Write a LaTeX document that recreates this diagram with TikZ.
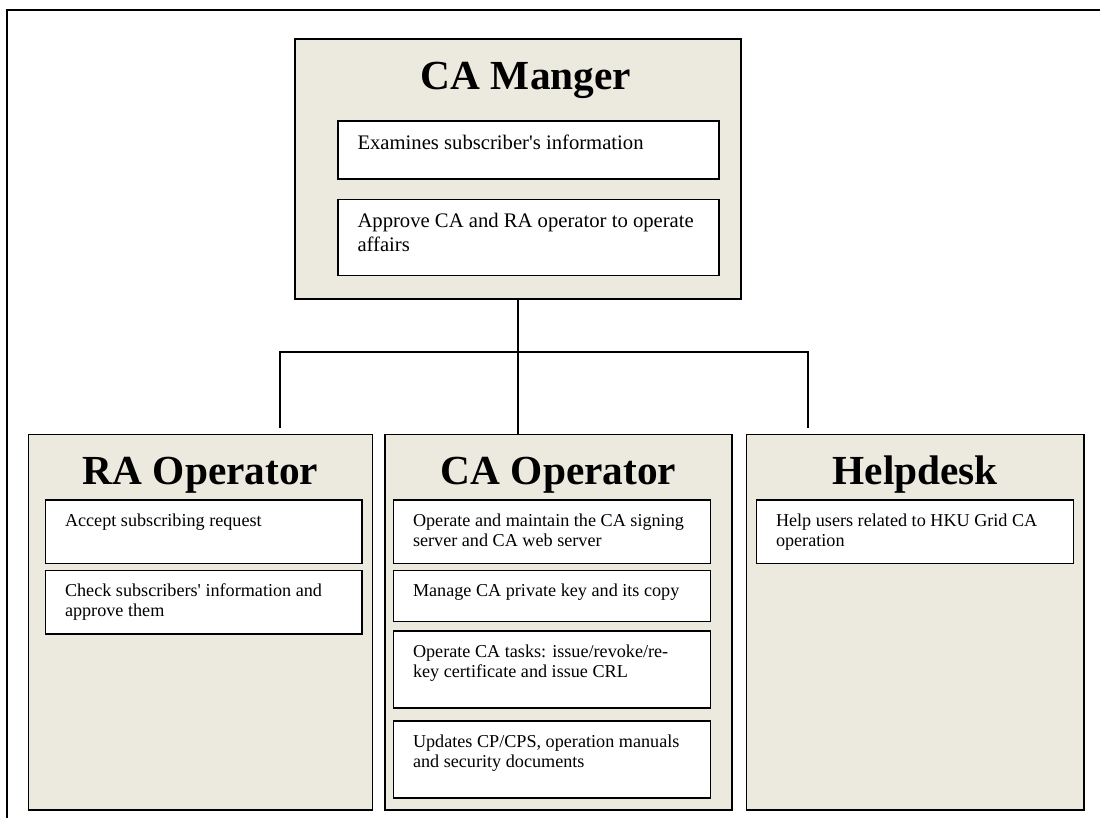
\documentclass[tikz,border=0pt]{standalone}
\usepackage{fontspec}
\setmainfont{Liberation Serif}
\usetikzlibrary{fit}
\definecolor{panelfill}{RGB}{236,233,223}
\tikzset{
  panel/.style={draw=black, fill=panelfill, line width=0.9pt, inner sep=0pt},
  task/.style={draw=black, fill=white, line width=1pt, inner sep=0pt},
  tasktext/.style={anchor=base west, inner sep=0pt, font=\fontsize{10.9}{12}\selectfont},
  mgrtext/.style={tasktext, font=\fontsize{12.4}{14}\selectfont, yshift=-1.2pt},
  title/.style={anchor=base, inner sep=0pt, font=\fontsize{24.8}{28}\selectfont\bfseries},
  link/.style={draw=black, line width=0.9pt}
}
\newcommand{\q}{\textquotesingle}
% task box: [text style], name, x1, y1, x2, y2, text
\newcommand{\taskbox}[7][tasktext]{%
  \node[task, fit={(#3,#4) (#5,#6)}] (#2) {};
  \node[#1] (#2-txt) at ([shift={(20,27)}]#2.north west)
    {\begin{tabular}[t]{@{}l@{}}#7\end{tabular}};}
\begin{document}
\begin{tikzpicture}[x=0.6pt, y=-0.6pt, line join=miter]
\useasboundingbox (0,0) rectangle (1100,818);
\draw[line width=1.2pt] (7,10) rectangle (1130,840);
% CA manager
\node[panel, fit={(295,39) (741,299)}] (mgr) {};
\node[title] (mgr-title) at (526,89) {CA Manger};
\taskbox[mgrtext]{mgr1}{338}{121}{719}{179}{Examines subscriber\q s information}
\taskbox[mgrtext]{mgr2}{338}{199.5}{719}{275.5}{Approve CA and RA operator to operate\\affairs}
% RA operator
\node[panel, fit={(28.5,434.5) (372.5,810)}] (ra) {};
\node[title] (ra-title) at (ra.north |- 0,484) {RA Operator};
\taskbox{ra1}{45.5}{500}{362}{563.5}{Accept subscribing request}
\taskbox{ra2}{45.5}{570.5}{362}{634}{Check subscribers\q\ information and\\approve them}
% CA operator
\node[panel, fit={(385,434.5) (732,810)}] (caop) {};
\node[title] (caop-title) at (caop.north |- 0,484) {CA Operator};
\taskbox{caop1}{393.5}{500}{710.5}{563.5}{Operate and maintain the CA signing\\server and CA web server}
\taskbox{caop2}{393.5}{570.5}{710.5}{621.5}{Manage CA private key and its copy}
\taskbox{caop3}{393.5}{631}{710.5}{708}{Operate CA tasks: issue/revoke/re-\\key certificate and issue CRL}
\taskbox{caop4}{393.5}{721}{710.5}{798}{Updates CP/CPS, operation manuals\\and security documents}
% helpdesk
\node[panel, fit={(746.5,434.5) (1084,810)}] (help) {};
\node[title] (help-title) at (help.north |- 0,484) {Helpdesk};
\taskbox{help1}{756.5}{500}{1073.5}{563.5}{Help users related to HKU Grid CA\\operation}
% connectors
\coordinate (bus) at (mgr.south |- 0,352);
\coordinate (raend) at (280,428);
\coordinate (helpend) at (808,428);
\draw[link] (mgr.south) -- (mgr.south |- caop.north);
\draw[link] (raend) |- (bus) -| (helpend);
\end{tikzpicture}
\end{document}
